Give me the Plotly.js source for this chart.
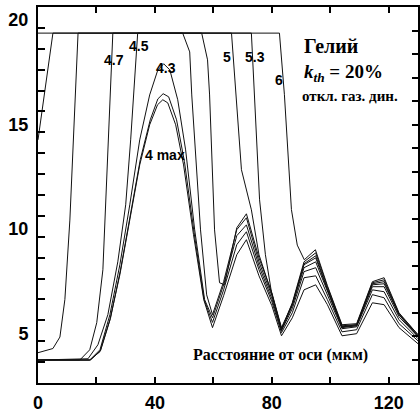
<!DOCTYPE html>
<html>
<head>
<meta charset="utf-8">
<script src="https://cdn.plot.ly/plotly-3.0.1.min.js"></script>
<style>html,body{margin:0;padding:0;background:#fff;}#chart{width:420px;height:415px;}</style>
</head>
<body>
<div id="chart"></div>
<script>
// Curve data (x: distance from axis, µm)
const x_6 = [0, 82.6, 84.3, 86.7, 88.7, 91.1, 94.9, 99, 104, 109, 114.4, 118.4, 123.5, 130];
const y_6 = [19.75, 19.75, 16.8, 11.3, 9.6, 8.9, 9.38, 7.66, 5.79, 5.84, 7.85, 8.04, 6.36, 5.31];

const x_53 = [0, 5.1, 73.0, 74.4, 75.8, 77.8, 79.9, 83.3, 87, 91, 95, 99, 104, 109, 114.4, 118.4, 123.5, 130];
const y_53 = [14.64, 19.75, 19.75, 15.6, 11.77, 9.14, 7.32, 5.55, 6.84, 8.80, 9.23, 7.61, 5.74, 5.79, 7.80, 7.94, 6.32, 5.31];

const x_5 = [0, 5.1, 7.5, 9.2, 10.9, 12.3, 13.7, 66.2, 69.6, 73.0, 75.6, 80, 83.3, 87, 91, 95, 99, 104, 109, 114.4, 118.4, 123.5, 130];
const y_5 = [4.45, 4.65, 5.2, 7.0, 10.8, 15.6, 19.75, 19.75, 13.21, 11.29, 9.14, 7.27, 5.60, 6.75, 8.71, 9.09, 7.51, 5.69, 5.74, 7.75, 7.85, 6.27, 5.22];

const x_47 = [0, 14.3, 17.7, 20.1, 22.2, 23.2, 24.6, 25.6, 56.0, 58.0, 58.7, 59.4, 60.4, 62.1, 63.8, 68, 71.3, 75.6, 80, 83.3, 87, 91, 95, 99, 104, 109, 114.4, 118.4, 123.5, 130];
const y_47 = [4.1, 4.1, 4.59, 5.89, 8.42, 11.77, 16.08, 19.75, 19.75, 18.47, 16.79, 14.16, 10.33, 7.80, 7.70, 10.43, 11.10, 8.99, 7.32, 5.65, 6.79, 8.66, 8.99, 7.46, 5.69, 5.79, 7.70, 7.75, 6.27, 5.26];

const x_45 = [0, 17.1, 20.5, 23.9, 27.3, 30.0, 31.7, 33.1, 34.1, 49.5, 51.9, 52.6, 53.9, 55.6, 57.7, 59.7, 63.5, 68, 71.3, 75.6, 80, 83.3, 87, 91, 95, 99, 104, 109, 114.4, 118.4, 123.5, 130];
const y_45 = [4.1, 4.16, 4.83, 6.27, 8.80, 11.53, 14.64, 17.51, 19.75, 19.75, 18.85, 16.79, 14.16, 10.33, 7.22, 6.27, 7.85, 10.34, 10.91, 8.80, 7.18, 5.55, 6.70, 8.52, 8.80, 7.37, 5.65, 5.74, 7.61, 7.61, 6.17, 5.22];

const x_43 = [0, 17.7, 21.2, 24.6, 28.0, 31.4, 34.8, 38.2, 41.0, 43.0, 45.1, 47.8, 50.5, 53.6, 57.0, 59.7, 63.5, 68, 71.3, 75.6, 80, 83.3, 87, 91, 95, 99, 104, 109, 114.4, 118.4, 123.5, 130];
const y_43 = [4.1, 4.1, 4.59, 6.27, 8.66, 11.53, 14.64, 16.79, 17.99, 18.28, 17.99, 16.56, 14.16, 10.33, 6.99, 6.12, 7.70, 10.05, 10.57, 8.61, 7.03, 5.50, 6.56, 8.33, 8.52, 7.23, 5.60, 5.69, 7.46, 7.37, 6.03, 5.12];

const x_4a = [0, 18.0, 21.4, 24.8, 28.2, 31.6, 35.0, 38.4, 41.0, 42.8, 44.7, 47.4, 50.1, 53.4, 56.8, 59.7, 63.5, 68, 71.3, 75.6, 80, 83.3, 87, 91, 95, 99, 104, 109, 114.4, 118.4, 123.5, 130];
const y_4a = [4.1, 4.1, 4.55, 6.10, 8.40, 11.0, 13.7, 15.6, 16.6, 16.85, 16.7, 15.6, 13.6, 10.2, 7.0, 5.9, 7.46, 9.62, 10.24, 8.42, 6.89, 5.41, 6.36, 8.04, 8.13, 6.99, 5.45, 5.55, 7.23, 7.08, 5.84, 5.02];

const x_4b = [0, 17.7, 21.2, 24.6, 28.0, 31.4, 34.8, 38.2, 40.9, 42.7, 44.4, 47.1, 49.8, 53.2, 56.7, 59.7, 63.5, 68, 71.3, 75.6, 80, 83.3, 87, 91, 95, 99, 104, 109, 114.4, 118.4, 123.5, 130];
const y_4b = [4.1, 4.1, 4.5, 6.03, 8.18, 10.81, 13.44, 15.36, 16.32, 16.56, 16.41, 15.36, 13.44, 10.10, 6.99, 5.65, 7.18, 9.14, 9.86, 8.13, 6.70, 5.26, 6.12, 7.46, 7.70, 6.75, 5.26, 5.36, 6.84, 6.75, 5.65, 4.88];

const seriesNames = ["6", "5.3", "5", "4.7", "4.5", "4.3", "4 max (a)", "4 max (b)"];
const seriesX = [x_6, x_53, x_5, x_47, x_45, x_43, x_4a, x_4b];
const seriesY = [y_6, y_53, y_5, y_47, y_45, y_43, y_4a, y_4b];

// Curve labels and their anchor points (data coords)
const curveLabels = ["4.7", "4.5", "4.3", "5", "5.3", "6", "4 max"];
const labelX = [25.9, 34.5, 43.7, 64.5, 74.1, 82.3, 43.3];
const labelY = [18.47, 19.14, 18.09, 18.61, 18.61, 17.51, 13.92];

const xTickVals = [0, 40, 80, 120];
const yTickVals = [5, 10, 15, 20];
const rightTickVals = [0, 1, 2, 3, 4, 5, 6, 7, 8, 9, 10, 11, 12, 13, 14, 15, 16];

const traces = seriesX.map((xs, i) => ({
  x: xs, y: seriesY[i], name: seriesNames[i], type: 'scatter', mode: 'lines',
  line: {color: '#111', width: 1}, hoverinfo: 'skip', showlegend: false
}));
// invisible trace so the right-hand tick axis is drawn
traces.push({x: [0], y: [0], yaxis: 'y2', type: 'scatter', mode: 'markers',
  marker: {opacity: 0, size: 1}, showlegend: false, hoverinfo: 'skip'});

const tickFont = {family: 'Liberation Sans, Arial, sans-serif', size: 18, color: '#000', weight: 'bold'};
const labelFont = {family: 'Liberation Sans, Arial, sans-serif', size: 14, color: '#000', weight: 'bold'};
const serif = 'Liberation Serif, Times New Roman, serif';

const annotations = curveLabels.map((t, i) => ({
  text: t, x: labelX[i], y: labelY[i], xref: 'x', yref: 'y', showarrow: false,
  font: labelFont, xanchor: 'center', yanchor: 'middle'
}));
annotations.push(
  {text: 'Гелий', x: 302, y: 46, xanchor: 'left', yanchor: 'middle', font: {family: serif, size: 20, color: '#000', weight: 'bold'}},
  {text: '<i>k</i><sub><i>th</i></sub> = 20%', x: 302, y: 73, xanchor: 'left', yanchor: 'middle', font: {family: serif, size: 19, color: '#000', weight: 'bold'}},
  {text: 'откл. газ. дин.', x: 300, y: 96, xanchor: 'left', yanchor: 'middle', font: {family: serif, size: 15, color: '#000', weight: 'bold'}},
  {text: 'Расстояние от оси (мкм)', x: 280, y: 355, xanchor: 'center', yanchor: 'middle', font: {family: serif, size: 16, color: '#000', weight: 'bold'}}
);
// text block positions given in pixels -> paper coords
const L = 38, T = 7, W = 380, H = 376;
annotations.forEach(a => {
  if (!a.xref) {
    a.xref = 'paper'; a.yref = 'paper'; a.showarrow = false;
    a.x = (a.x - L) / W; a.y = 1 - (a.y - T) / H;
  }
});

const layout = {
  width: 420, height: 415,
  margin: {l: L, r: 420 - L - W, t: T, b: 415 - T - H, pad: 0},
  paper_bgcolor: '#fff', plot_bgcolor: '#fff',
  showlegend: false,
  xaxis: {
    range: [0, 130], tickvals: xTickVals, ticktext: xTickVals.map(String),
    ticks: 'inside', ticklen: 6, tickwidth: 2, tickcolor: '#000',
    minor: {dtick: 20, tick0: 0, ticks: 'inside', ticklen: 6, tickwidth: 2, tickcolor: '#000'},
    showline: true, linewidth: 2, linecolor: '#000', mirror: 'ticks',
    showgrid: false, zeroline: false, tickfont: tickFont, ticklabelstandoff: 2
  },
  yaxis: {
    range: [3, 21], tickvals: yTickVals, ticktext: yTickVals.map(String),
    ticks: 'inside', ticklen: 7, tickwidth: 2, tickcolor: '#000',
    minor: {dtick: 1, tick0: 0, ticks: 'inside', ticklen: 7, tickwidth: 2, tickcolor: '#000'},
    showline: true, linewidth: 2, linecolor: '#000', mirror: false,
    showgrid: false, zeroline: false, tickfont: tickFont, ticklabelshift: -8, ticklabelstandoff: 4
  },
  yaxis2: {
    overlaying: 'y', side: 'right', range: [0, 16], tickvals: rightTickVals,
    ticks: 'inside', ticklen: 6, tickwidth: 2, tickcolor: '#000',
    showline: true, linewidth: 2, linecolor: '#000', showticklabels: false,
    showgrid: false, zeroline: false
  },
  annotations: annotations
};

Plotly.newPlot('chart', traces, layout, {staticPlot: true, displayModeBar: false});
</script>
</body>
</html>
